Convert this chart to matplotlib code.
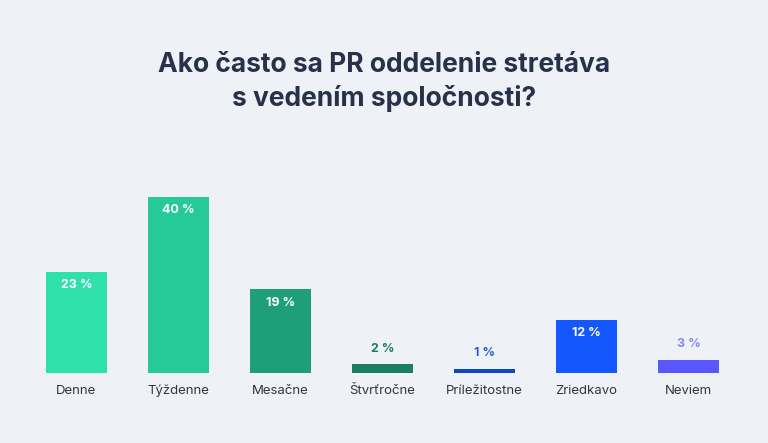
import matplotlib

matplotlib.use("Agg")
import matplotlib.pyplot as plt

categories = ["Denne", "Týždenne", "Mesačne", "Štvrťročne", "Príležitostne", "Zriedkavo", "Neviem"]
values = [23, 40, 19, 2, 1, 12, 3]
colors = ["#2ee0ab", "#26c998", "#1f9e7a", "#1b7d62", "#0d47c8", "#1457ff", "#5b57ff"]
label_colors = ["white", "white", "white", "#1b7d62", "#2a5ad8", "white", "#8c87f5"]

bg = "#eef2f6"
fig = plt.figure(figsize=(7.68, 4.43), dpi=100, facecolor=bg)
ax = fig.add_axes([0.033, 0.158, 0.93, 0.397])
ax.set_facecolor(bg)

x = range(len(categories))
ax.bar(x, values, width=0.6, color=colors)
for i, v in enumerate(values):
    if v >= 10:
        ax.text(i, v - 3.0, f"{v} %", ha="center", va="center", color="white",
                fontsize=9, fontweight="bold", family="Inter")
    else:
        ax.text(i, v + 3.5, f"{v} %", ha="center", va="center", color=label_colors[i],
                fontsize=9, fontweight="bold", family="Inter")
    ax.text(i, -4, categories[i], ha="center", va="center", color="#333840",
            fontsize=9.5, family="Inter")

ax.set_xlim(-0.5, 6.5)
ax.set_ylim(0, 40)
ax.axis("off")

fig.text(0.5, 0.815, "Ako často sa PR oddelenie stretáva\ns vedením spoločnosti?",
         ha="center", va="center", fontsize=19, fontweight="bold", color="#283149",
         family="Inter", linespacing=1.35)

fig.savefig("out.png", dpi=100, facecolor=bg)
